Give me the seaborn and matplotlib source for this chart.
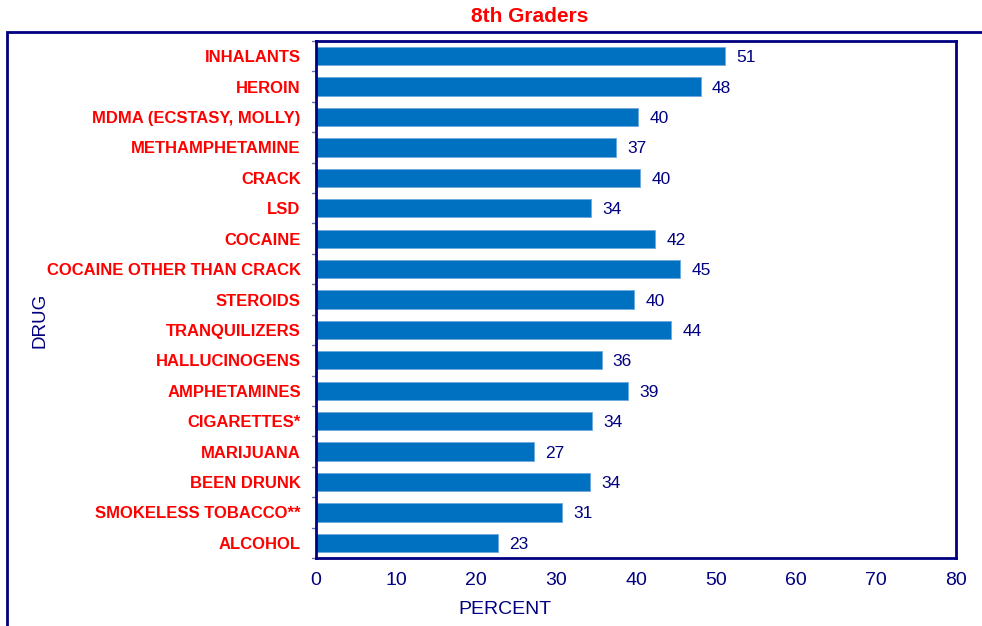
import matplotlib
matplotlib.use("Agg")
import matplotlib.pyplot as plt
from matplotlib.patches import Rectangle
import seaborn as sns
import pandas as pd

drugs = ["INHALANTS", "HEROIN", "MDMA (ECSTASY, MOLLY)", "METHAMPHETAMINE", "CRACK",
         "LSD", "COCAINE", "COCAINE OTHER THAN CRACK", "STEROIDS", "TRANQUILIZERS",
         "HALLUCINOGENS", "AMPHETAMINES", "CIGARETTES*", "MARIJUANA", "BEEN DRUNK",
         "SMOKELESS TOBACCO**", "ALCOHOL"]
percent = [51.1, 48.1, 40.3, 37.5, 40.5, 34.4, 42.4, 45.5, 39.8, 44.4,
           35.7, 39.0, 34.5, 27.3, 34.3, 30.8, 22.7]
value_labels = ["51", "48", "40", "37", "40", "34", "42", "45", "40", "44",
                "36", "39", "34", "27", "34", "31", "23"]
x_ticks = [0, 10, 20, 30, 40, 50, 60, 70, 80]

NAVY = "#000080"
RED = "#FF0000"
BLUE = "#0070C0"

sns.set_theme(style="white")
plt.rcParams["font.family"] = ["Liberation Sans", "DejaVu Sans"]

df = pd.DataFrame({"drug": drugs, "percent": percent})

fig = plt.figure(figsize=(9.82, 6.26), dpi=100)
ax = fig.add_axes([316 / 982, 68 / 626, 640 / 982, 517 / 626])

sns.barplot(data=df, x="percent", y="drug", orient="h", color=BLUE,
            width=0.6, saturation=1, ax=ax, edgecolor="#6FA8DC", linewidth=0.6)

ax.set_xlim(0, 80)
ax.set_ylim(len(drugs) - 0.5, -0.5)
ax.set_xticks(x_ticks)
ax.set_xticklabels([str(t) for t in x_ticks], color=NAVY, fontsize=14)
ax.tick_params(axis="x", direction="out", length=5, width=1, color="#7070B0", pad=5)

ax.set_yticks(range(len(drugs)))
ax.set_yticklabels(drugs, color=RED, fontsize=12, fontweight="bold")
ax.tick_params(axis="y", length=0, pad=11)
for b in [i - 0.5 for i in range(len(drugs) + 1)]:
    ax.plot([-0.55, 0], [b, b], color="#7070B0", lw=1, clip_on=False)

for s in ax.spines.values():
    s.set_color(NAVY)
    s.set_linewidth(2)
    s.set_visible(True)

for i, (v, lab) in enumerate(zip(percent, value_labels)):
    ax.text(v + 1.4, i + 0.05, lab, va="center", ha="left", color=NAVY, fontsize=12.5)

ax.set_xlabel("")
ax.set_ylabel("")
fig.text(505 / 982, 1 - 609 / 626, "PERCENT", ha="center", va="center", color=NAVY, fontsize=14)
fig.text(40 / 982, 1 - 320 / 626, "DRUG", ha="center", va="center", color=NAVY,
         fontsize=13.5, rotation=90)
fig.text(530 / 982, 1 - 16 / 626, "8th Graders", ha="center", va="center", color=RED,
         fontsize=15, fontweight="bold")

fig.patches.append(Rectangle((7 / 982, -0.1), 1.2, 0.1 + (626 - 32) / 626,
                             transform=fig.transFigure, fill=False,
                             edgecolor=NAVY, linewidth=2, zorder=0))

fig.savefig("out.png", dpi=100)
